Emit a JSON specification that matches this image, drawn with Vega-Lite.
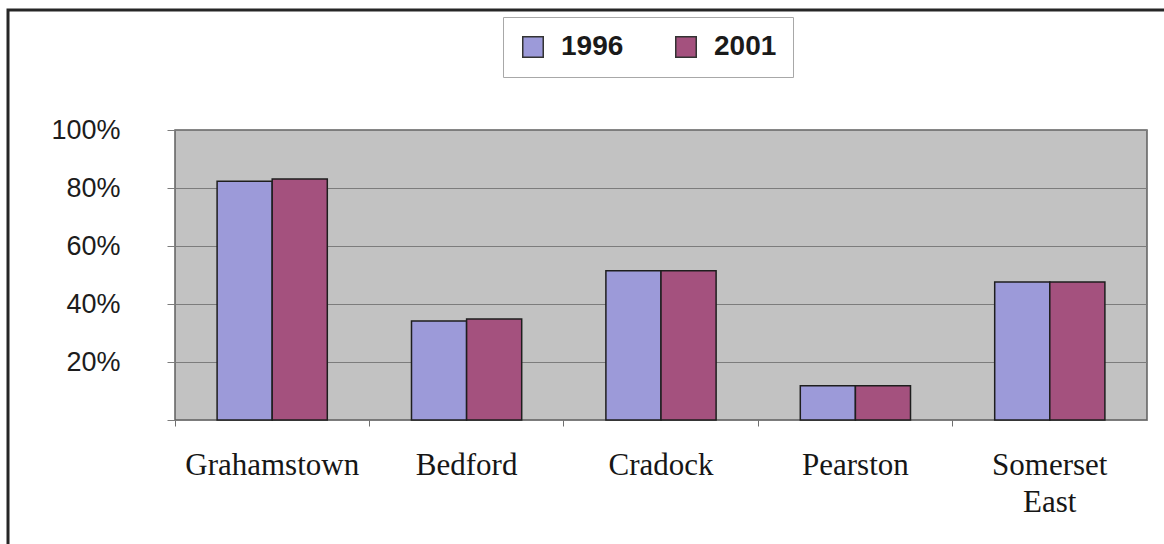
{
  "$schema": "https://vega.github.io/schema/vega-lite/v6.json",
  "width": 972,
  "height": 290,
  "autosize": {"type": "none"},
  "padding": {"left": 175, "top": 130, "right": 17, "bottom": 124},
  "background": "white",
  "config": {
    "view": {"fill": "#c2c2c2", "stroke": "#5f5f5f", "strokeWidth": 1.5}
  },
  "datasets": {
    "share": [
      {"town": "Grahamstown", "year": "1996", "value": 0.823},
      {"town": "Grahamstown", "year": "2001", "value": 0.831},
      {"town": "Bedford", "year": "1996", "value": 0.341},
      {"town": "Bedford", "year": "2001", "value": 0.348},
      {"town": "Cradock", "year": "1996", "value": 0.515},
      {"town": "Cradock", "year": "2001", "value": 0.515},
      {"town": "Pearston", "year": "1996", "value": 0.118},
      {"town": "Pearston", "year": "2001", "value": 0.118},
      {"town": "Somerset East", "year": "1996", "value": 0.476},
      {"town": "Somerset East", "year": "2001", "value": 0.476}
    ],
    "frame": [{"x0": -0.1718, "x1": 1.03, "y0": -0.46, "y1": 1.4138}]
  },
  "layer": [
    {
      "data": {"name": "share"},
      "mark": {"type": "bar", "stroke": "#1e1e1e", "strokeWidth": 1.5},
      "encoding": {
        "x": {
          "field": "town",
          "type": "nominal",
          "sort": ["Grahamstown", "Bedford", "Cradock", "Pearston", "Somerset East"],
          "scale": {"paddingInner": 0, "paddingOuter": 0},
          "axis": {
            "title": null,
            "domain": false,
            "grid": false,
            "ticks": true,
            "bandPosition": 0,
            "tickSize": 6,
            "tickColor": "#6f6f6f",
            "labelAngle": 0,
            "labelFont": "Liberation Serif",
            "labelFontSize": 31,
            "labelColor": "#161616",
            "labelPadding": 24,
            "labelLineHeight": 37,
            "labelLimit": 300,
            "labelExpr": "datum.value == 'Somerset East' ? ['Somerset', 'East'] : datum.label"
          }
        },
        "xOffset": {
          "field": "year",
          "type": "nominal",
          "scale": {"paddingInner": 0, "paddingOuter": 0.764}
        },
        "y": {
          "field": "value",
          "type": "quantitative",
          "scale": {"domain": [0, 1], "nice": false, "zero": true},
          "axis": {
            "title": null,
            "values": [0, 0.2, 0.4, 0.6, 0.8, 1],
            "format": ".0%",
            "labelExpr": "datum.value == 0 ? '' : datum.label",
            "domain": false,
            "grid": true,
            "gridColor": "#7c7c7c",
            "gridWidth": 1,
            "tickSize": 8,
            "tickColor": "#7c7c7c",
            "labelFont": "Liberation Sans",
            "labelFontSize": 27,
            "labelColor": "#1c1c1c",
            "labelPadding": 47
          }
        },
        "color": {
          "field": "year",
          "type": "nominal",
          "scale": {"domain": ["1996", "2001"], "range": ["#9c9ad9", "#a4517e"]},
          "legend": {
            "title": null,
            "orient": "none",
            "legendX": 328,
            "legendY": -113,
            "direction": "horizontal",
            "columns": 2,
            "symbolType": "square",
            "symbolSize": 420,
            "symbolStrokeColor": "#333333",
            "symbolStrokeWidth": 1.5,
            "symbolOpacity": 1,
            "labelFont": "Liberation Sans",
            "labelFontWeight": "bold",
            "labelFontSize": 28,
            "labelColor": "#1a1a1a",
            "labelOffset": 14,
            "columnPadding": 48,
            "padding": 16,
            "strokeColor": "#a8a8a8",
            "fillColor": "white"
          }
        }
      }
    },
    {
      "data": {"name": "frame"},
      "mark": {"type": "rect", "fill": null, "stroke": "#262626", "strokeWidth": 3, "clip": false},
      "encoding": {
        "x": {"field": "x0", "type": "quantitative", "scale": {"domain": [0, 1], "nice": false, "zero": false}, "axis": null},
        "x2": {"field": "x1"},
        "y": {"field": "y0", "type": "quantitative", "scale": {"domain": [0, 1], "nice": false, "zero": false}, "axis": null},
        "y2": {"field": "y1"}
      }
    }
  ],
  "resolve": {"scale": {"x": "independent", "y": "independent"}}
}
